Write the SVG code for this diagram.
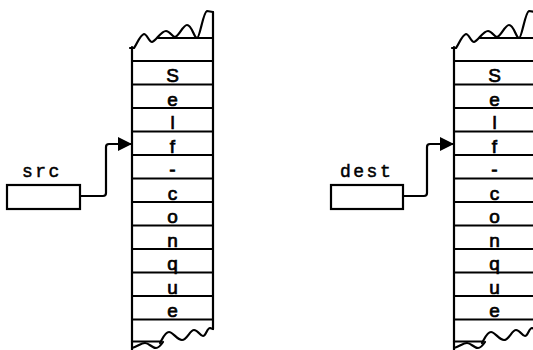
<svg xmlns="http://www.w3.org/2000/svg" width="533" height="350" viewBox="0 0 533 350">
<defs>
<style>
.ln{fill:none;stroke:#000;stroke-width:2.2;stroke-linecap:round;stroke-linejoin:round}
.bx{fill:#fff;stroke:#000;stroke-width:2.2}
.ch{font-family:"Liberation Sans",Arial,sans-serif;font-size:19px;text-anchor:middle;fill:#000;stroke:#000;stroke-width:0.7}
.lb{font-family:"Liberation Mono","Courier New",monospace;font-size:18px;letter-spacing:2.5px;fill:#000;stroke:#000;stroke-width:0.5}
</style>
<marker id="ah" viewBox="0 0 14 14" refX="14" refY="7" markerWidth="14" markerHeight="14" markerUnits="userSpaceOnUse" orient="auto">
<path d="M0,0 L14,7 L0,14 Z" fill="#000"/>
</marker>
</defs>
<rect width="533" height="350" fill="#fff"/>

<g id="col-src">
<g class="ln">
<path d="M132,47 L132,350"/>
<path d="M213,12 L213,329"/>
<path d="M130,48 L134,48 C137,44 140,35 144,34 C147,34 149,42 152,42 C156,41 161,31 166,31 C170,31 172,37 175,37 C179,36 183,25 187,25 C192,25 194,38 197,38 C200,38 203,12 207,11 L213,12"/>
<path d="M158,38 L213,38"/>
<path d="M132,61 H213 M132,84.5 H213 M132,108 H213 M132,131.5 H213 M132,155 H213 M132,178.5 H213 M132,202 H213 M132,225.5 H213 M132,249 H213 M132,272.5 H213 M132,296 H213 M132,319.5 H213"/>
<path d="M160,343 C163,338 165,332 169,332 C173,332 177,340 182,340 C187,340 190,330 194,330 C198,330 200,336 203,336 C206,336 207,328 210,328 L213,329"/>
<path d="M132,341.5 L161,341.5"/>
<path d="M132,348 C137,347 141,343 145,343 C149,343 152,348 156,348 C159,348 161,345 163,342"/>
</g>
<text class="ch" x="172.5" y="82">S</text>
<text class="ch" x="172.5" y="105.5">e</text>
<text class="ch" x="172.5" y="129">l</text>
<text class="ch" x="172.5" y="152.5">f</text>
<text class="ch" x="172.5" y="176">-</text>
<text class="ch" x="172.5" y="199.5">c</text>
<text class="ch" x="172.5" y="223">o</text>
<text class="ch" x="172.5" y="246.5">n</text>
<text class="ch" x="172.5" y="270">q</text>
<text class="ch" x="172.5" y="293.5">u</text>
<text class="ch" x="172.5" y="317">e</text>
</g>

<g id="col-dest" transform="translate(322,0)">
<g class="ln">
<path d="M132,47 L132,350"/>
<path d="M213,12 L213,329"/>
<path d="M130,48 L134,48 C137,44 140,35 144,34 C147,34 149,42 152,42 C156,41 161,31 166,31 C170,31 172,37 175,37 C179,36 183,25 187,25 C192,25 194,38 197,38 C200,38 203,12 207,11 L213,12"/>
<path d="M158,38 L213,38"/>
<path d="M132,61 H213 M132,84.5 H213 M132,108 H213 M132,131.5 H213 M132,155 H213 M132,178.5 H213 M132,202 H213 M132,225.5 H213 M132,249 H213 M132,272.5 H213 M132,296 H213 M132,319.5 H213"/>
<path d="M160,343 C163,338 165,332 169,332 C173,332 177,340 182,340 C187,340 190,330 194,330 C198,330 200,336 203,336 C206,336 207,328 210,328 L213,329"/>
<path d="M132,341.5 L161,341.5"/>
<path d="M132,348 C137,347 141,343 145,343 C149,343 152,348 156,348 C159,348 161,345 163,342"/>
</g>
<text class="ch" x="172.5" y="82">S</text>
<text class="ch" x="172.5" y="105.5">e</text>
<text class="ch" x="172.5" y="129">l</text>
<text class="ch" x="172.5" y="152.5">f</text>
<text class="ch" x="172.5" y="176">-</text>
<text class="ch" x="172.5" y="199.5">c</text>
<text class="ch" x="172.5" y="223">o</text>
<text class="ch" x="172.5" y="246.5">n</text>
<text class="ch" x="172.5" y="270">q</text>
<text class="ch" x="172.5" y="293.5">u</text>
<text class="ch" x="172.5" y="317">e</text>
</g>

<g id="src">
<rect class="bx" x="7" y="185" width="73" height="24"/>
<text class="lb" x="22" y="177">src</text>
</g>

<g id="dest">
<rect class="bx" x="331" y="185" width="72" height="24"/>
<text class="lb" x="340" y="177">dest</text>
</g>

<g id="connectors" class="ln">
<path d="M80,196 L103,196 Q106,196 106,193 L106,147 Q106,144 109,144 L132,144" marker-end="url(#ah)"/>
<path d="M403,196 L424,196 Q427,196 427,193 L427,147 Q427,144 430,144 L454,144" marker-end="url(#ah)"/>
</g>
</svg>
